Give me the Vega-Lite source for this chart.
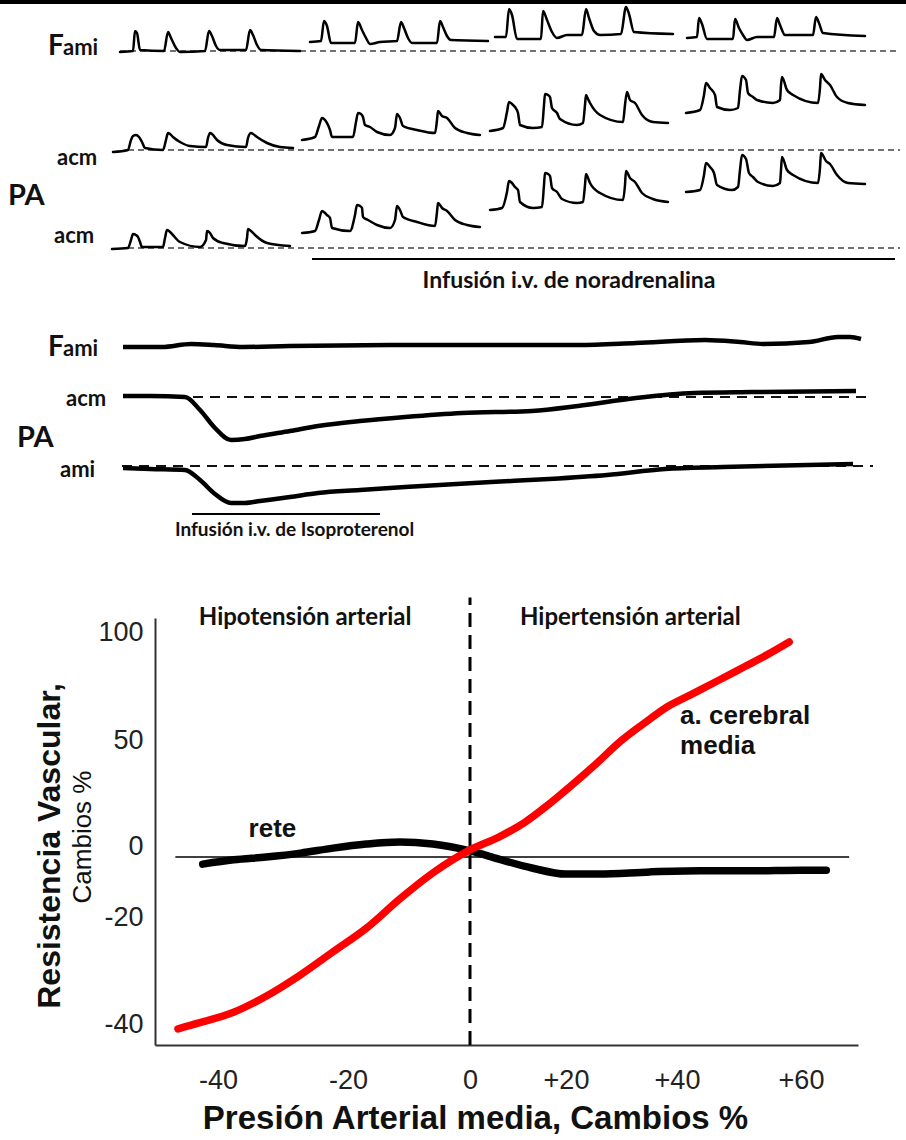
{
  "$schema": "https://vega.github.io/schema/vega-lite/v6.json",
  "width": 703,
  "height": 427,
  "autosize": "none",
  "padding": {"left": 155, "top": 618, "right": 48, "bottom": 95},
  "background": "white",
  "config": {
    "view": {"stroke": null},
    "axis": {"grid": false, "ticks": false, "labelFont": "Liberation Sans", "titleFont": "Liberation Sans"}
  },
  "datasets": {
    "curves": [
      {"series": "rete", "pam": -42.4, "rv": -5.1},
      {"series": "rete", "pam": -37.6, "rv": -3.9},
      {"series": "rete", "pam": -32.6, "rv": -3.1},
      {"series": "rete", "pam": -27.3, "rv": -2.0},
      {"series": "rete", "pam": -22.3, "rv": -0.6},
      {"series": "rete", "pam": -17.0, "rv": 0.9},
      {"series": "rete", "pam": -11.5, "rv": 1.9},
      {"series": "rete", "pam": -6.1, "rv": 0.9},
      {"series": "rete", "pam": 0, "rv": -1.4},
      {"series": "rete", "pam": 6.0, "rv": -3.7},
      {"series": "rete", "pam": 12.9, "rv": -6.2},
      {"series": "rete", "pam": 20, "rv": -7.9},
      {"series": "rete", "pam": 25.9, "rv": -7.9},
      {"series": "rete", "pam": 35.1, "rv": -7.3},
      {"series": "rete", "pam": 43.7, "rv": -7.0},
      {"series": "rete", "pam": 51.9, "rv": -7.0},
      {"series": "rete", "pam": 60, "rv": -6.8},
      {"series": "rete", "pam": 64, "rv": -6.8},
      {"series": "a. cerebral media", "pam": -46.3, "rv": -40.9},
      {"series": "a. cerebral media", "pam": -43.0, "rv": -39.8},
      {"series": "a. cerebral media", "pam": -37.6, "rv": -37.8},
      {"series": "a. cerebral media", "pam": -32.6, "rv": -34.8},
      {"series": "a. cerebral media", "pam": -27.3, "rv": -30.8},
      {"series": "a. cerebral media", "pam": -22.3, "rv": -26.5},
      {"series": "a. cerebral media", "pam": -17.0, "rv": -22.1},
      {"series": "a. cerebral media", "pam": -11.5, "rv": -14.9},
      {"series": "a. cerebral media", "pam": -6.1, "rv": -7.6},
      {"series": "a. cerebral media", "pam": 0, "rv": -1.1},
      {"series": "a. cerebral media", "pam": 6.0, "rv": 4.2},
      {"series": "a. cerebral media", "pam": 11.5, "rv": 11.3},
      {"series": "a. cerebral media", "pam": 16.5, "rv": 19.8},
      {"series": "a. cerebral media", "pam": 21.1, "rv": 28.8},
      {"series": "a. cerebral media", "pam": 25.4, "rv": 38.7},
      {"series": "a. cerebral media", "pam": 29.7, "rv": 49.1},
      {"series": "a. cerebral media", "pam": 33.9, "rv": 57.4},
      {"series": "a. cerebral media", "pam": 38.2, "rv": 65.3},
      {"series": "a. cerebral media", "pam": 42.1, "rv": 70.8},
      {"series": "a. cerebral media", "pam": 46.5, "rv": 77.3},
      {"series": "a. cerebral media", "pam": 50.8, "rv": 83.8},
      {"series": "a. cerebral media", "pam": 54.5, "rv": 89.4},
      {"series": "a. cerebral media", "pam": 58.1, "rv": 95.4}
    ],
    "zero_line": [{"pam": -46.7, "pam2": 67.6, "rv": -3.1}],
    "vline": [{"pam": 0, "rv": -43.9, "rv2": 116}],
    "region_labels": [
      {"label": "Hipotensión arterial", "pam": -26.6, "rv": 103.3},
      {"label": "Hipertensión arterial", "pam": 31.6, "rv": 103.3}
    ],
    "curve_labels": [
      {"label": "rete", "pam": -35.3, "rv": 4.2},
      {"label": "a. cerebral", "pam": 40.5, "rv": 57.6},
      {"label": "media", "pam": 40.5, "rv": 43.5}
    ],
    "frame_line": [{"t": 0, "t2": 906, "v": 558}],
    "top_baselines": [
      {"t": 120, "t2": 900, "v": 509},
      {"t": 128, "t2": 900, "v": 410},
      {"t": 128, "t2": 900, "v": 312}
    ],
    "mid_baselines": [
      {"t": 125, "t2": 873, "v": 163},
      {"t": 122, "t2": 873, "v": 94}
    ],
    "infusion_lines": [
      {"t": 312, "t2": 895, "v": 301},
      {"t": 192, "t2": 380, "v": 46}
    ],
    "top_traces": [
      {"trace": "F-1", "t": 120, "v": 508}, {"trace": "F-1", "t": 133, "v": 509}, {"trace": "F-1", "t": 135, "v": 529}, {"trace": "F-1", "t": 137, "v": 527}, {"trace": "F-1", "t": 140, "v": 510}, {"trace": "F-1", "t": 164, "v": 509}, {"trace": "F-1", "t": 168, "v": 528}, {"trace": "F-1", "t": 171, "v": 522}, {"trace": "F-1", "t": 176, "v": 512}, {"trace": "F-1", "t": 180, "v": 508}, {"trace": "F-1", "t": 205, "v": 509}, {"trace": "F-1", "t": 209, "v": 529}, {"trace": "F-1", "t": 212, "v": 524}, {"trace": "F-1", "t": 216, "v": 514}, {"trace": "F-1", "t": 220, "v": 510}, {"trace": "F-1", "t": 246, "v": 510}, {"trace": "F-1", "t": 250, "v": 530}, {"trace": "F-1", "t": 253, "v": 525}, {"trace": "F-1", "t": 257, "v": 515}, {"trace": "F-1", "t": 261, "v": 510}, {"trace": "F-1", "t": 300, "v": 509},
      {"trace": "F-2", "t": 310, "v": 518}, {"trace": "F-2", "t": 321, "v": 519}, {"trace": "F-2", "t": 324, "v": 539}, {"trace": "F-2", "t": 327, "v": 534}, {"trace": "F-2", "t": 331, "v": 517}, {"trace": "F-2", "t": 355, "v": 517}, {"trace": "F-2", "t": 358, "v": 538}, {"trace": "F-2", "t": 362, "v": 530}, {"trace": "F-2", "t": 366, "v": 522}, {"trace": "F-2", "t": 370, "v": 516}, {"trace": "F-2", "t": 380, "v": 518}, {"trace": "F-2", "t": 397, "v": 519}, {"trace": "F-2", "t": 401, "v": 538}, {"trace": "F-2", "t": 404, "v": 532}, {"trace": "F-2", "t": 408, "v": 522}, {"trace": "F-2", "t": 412, "v": 517}, {"trace": "F-2", "t": 437, "v": 517}, {"trace": "F-2", "t": 440, "v": 539}, {"trace": "F-2", "t": 443, "v": 533}, {"trace": "F-2", "t": 447, "v": 524}, {"trace": "F-2", "t": 451, "v": 520}, {"trace": "F-2", "t": 488, "v": 519},
      {"trace": "F-3", "t": 495, "v": 523}, {"trace": "F-3", "t": 506, "v": 523}, {"trace": "F-3", "t": 509, "v": 551}, {"trace": "F-3", "t": 512, "v": 545}, {"trace": "F-3", "t": 517, "v": 521}, {"trace": "F-3", "t": 541, "v": 521}, {"trace": "F-3", "t": 543, "v": 549}, {"trace": "F-3", "t": 547, "v": 540}, {"trace": "F-3", "t": 552, "v": 528}, {"trace": "F-3", "t": 557, "v": 522}, {"trace": "F-3", "t": 567, "v": 525}, {"trace": "F-3", "t": 582, "v": 525}, {"trace": "F-3", "t": 586, "v": 551}, {"trace": "F-3", "t": 589, "v": 542}, {"trace": "F-3", "t": 594, "v": 529}, {"trace": "F-3", "t": 600, "v": 525}, {"trace": "F-3", "t": 621, "v": 526}, {"trace": "F-3", "t": 626, "v": 553}, {"trace": "F-3", "t": 629, "v": 546}, {"trace": "F-3", "t": 634, "v": 528}, {"trace": "F-3", "t": 673, "v": 526},
      {"trace": "F-4", "t": 687, "v": 522}, {"trace": "F-4", "t": 697, "v": 523}, {"trace": "F-4", "t": 699, "v": 542}, {"trace": "F-4", "t": 702, "v": 536}, {"trace": "F-4", "t": 707, "v": 521}, {"trace": "F-4", "t": 733, "v": 521}, {"trace": "F-4", "t": 735, "v": 541}, {"trace": "F-4", "t": 739, "v": 532}, {"trace": "F-4", "t": 743, "v": 525}, {"trace": "F-4", "t": 747, "v": 520}, {"trace": "F-4", "t": 757, "v": 523}, {"trace": "F-4", "t": 774, "v": 523}, {"trace": "F-4", "t": 777, "v": 542}, {"trace": "F-4", "t": 780, "v": 535}, {"trace": "F-4", "t": 785, "v": 525}, {"trace": "F-4", "t": 813, "v": 525}, {"trace": "F-4", "t": 816, "v": 543}, {"trace": "F-4", "t": 819, "v": 537}, {"trace": "F-4", "t": 823, "v": 527}, {"trace": "F-4", "t": 865, "v": 524},
      {"trace": "A1-1", "t": 113, "v": 408}, {"trace": "A1-1", "t": 128, "v": 410}, {"trace": "A1-1", "t": 131, "v": 420}, {"trace": "A1-1", "t": 133, "v": 424}, {"trace": "A1-1", "t": 136, "v": 425}, {"trace": "A1-1", "t": 139, "v": 423}, {"trace": "A1-1", "t": 142, "v": 418}, {"trace": "A1-1", "t": 145, "v": 412}, {"trace": "A1-1", "t": 163, "v": 410}, {"trace": "A1-1", "t": 166, "v": 420}, {"trace": "A1-1", "t": 168, "v": 427}, {"trace": "A1-1", "t": 170, "v": 426}, {"trace": "A1-1", "t": 173, "v": 423}, {"trace": "A1-1", "t": 180, "v": 418}, {"trace": "A1-1", "t": 190, "v": 414}, {"trace": "A1-1", "t": 206, "v": 413}, {"trace": "A1-1", "t": 208, "v": 422}, {"trace": "A1-1", "t": 210, "v": 427}, {"trace": "A1-1", "t": 212, "v": 426}, {"trace": "A1-1", "t": 217, "v": 420}, {"trace": "A1-1", "t": 227, "v": 415}, {"trace": "A1-1", "t": 246, "v": 413}, {"trace": "A1-1", "t": 248, "v": 422}, {"trace": "A1-1", "t": 251, "v": 427}, {"trace": "A1-1", "t": 253, "v": 426}, {"trace": "A1-1", "t": 257, "v": 423}, {"trace": "A1-1", "t": 267, "v": 417}, {"trace": "A1-1", "t": 280, "v": 413}, {"trace": "A1-1", "t": 293, "v": 412},
      {"trace": "A1-2", "t": 302, "v": 420}, {"trace": "A1-2", "t": 315, "v": 423}, {"trace": "A1-2", "t": 319, "v": 434}, {"trace": "A1-2", "t": 322, "v": 442}, {"trace": "A1-2", "t": 325, "v": 440}, {"trace": "A1-2", "t": 328, "v": 435}, {"trace": "A1-2", "t": 330, "v": 430}, {"trace": "A1-2", "t": 332, "v": 423}, {"trace": "A1-2", "t": 353, "v": 423}, {"trace": "A1-2", "t": 356, "v": 438}, {"trace": "A1-2", "t": 358, "v": 447}, {"trace": "A1-2", "t": 361, "v": 446}, {"trace": "A1-2", "t": 363, "v": 443}, {"trace": "A1-2", "t": 365, "v": 435}, {"trace": "A1-2", "t": 370, "v": 433}, {"trace": "A1-2", "t": 377, "v": 428}, {"trace": "A1-2", "t": 390, "v": 425}, {"trace": "A1-2", "t": 395, "v": 432}, {"trace": "A1-2", "t": 397, "v": 446}, {"trace": "A1-2", "t": 400, "v": 442}, {"trace": "A1-2", "t": 403, "v": 434}, {"trace": "A1-2", "t": 417, "v": 430}, {"trace": "A1-2", "t": 435, "v": 427}, {"trace": "A1-2", "t": 437, "v": 440}, {"trace": "A1-2", "t": 438, "v": 449}, {"trace": "A1-2", "t": 442, "v": 444}, {"trace": "A1-2", "t": 447, "v": 442}, {"trace": "A1-2", "t": 455, "v": 432}, {"trace": "A1-2", "t": 467, "v": 427}, {"trace": "A1-2", "t": 480, "v": 425},
      {"trace": "A1-3", "t": 490, "v": 429}, {"trace": "A1-3", "t": 503, "v": 432}, {"trace": "A1-3", "t": 507, "v": 448}, {"trace": "A1-3", "t": 509, "v": 458}, {"trace": "A1-3", "t": 512, "v": 456}, {"trace": "A1-3", "t": 515, "v": 453}, {"trace": "A1-3", "t": 518, "v": 447}, {"trace": "A1-3", "t": 520, "v": 435}, {"trace": "A1-3", "t": 533, "v": 432}, {"trace": "A1-3", "t": 542, "v": 433}, {"trace": "A1-3", "t": 544, "v": 455}, {"trace": "A1-3", "t": 545, "v": 466}, {"trace": "A1-3", "t": 548, "v": 465}, {"trace": "A1-3", "t": 550, "v": 463}, {"trace": "A1-3", "t": 552, "v": 452}, {"trace": "A1-3", "t": 557, "v": 447}, {"trace": "A1-3", "t": 560, "v": 441}, {"trace": "A1-3", "t": 577, "v": 435}, {"trace": "A1-3", "t": 583, "v": 437}, {"trace": "A1-3", "t": 585, "v": 455}, {"trace": "A1-3", "t": 586, "v": 465}, {"trace": "A1-3", "t": 588, "v": 461}, {"trace": "A1-3", "t": 590, "v": 457}, {"trace": "A1-3", "t": 600, "v": 445}, {"trace": "A1-3", "t": 623, "v": 438}, {"trace": "A1-3", "t": 625, "v": 455}, {"trace": "A1-3", "t": 627, "v": 468}, {"trace": "A1-3", "t": 630, "v": 460}, {"trace": "A1-3", "t": 635, "v": 457}, {"trace": "A1-3", "t": 642, "v": 445}, {"trace": "A1-3", "t": 653, "v": 438}, {"trace": "A1-3", "t": 668, "v": 437},
      {"trace": "A1-4", "t": 686, "v": 447}, {"trace": "A1-4", "t": 700, "v": 450}, {"trace": "A1-4", "t": 704, "v": 465}, {"trace": "A1-4", "t": 706, "v": 477}, {"trace": "A1-4", "t": 710, "v": 472}, {"trace": "A1-4", "t": 715, "v": 465}, {"trace": "A1-4", "t": 717, "v": 453}, {"trace": "A1-4", "t": 730, "v": 450}, {"trace": "A1-4", "t": 738, "v": 452}, {"trace": "A1-4", "t": 740, "v": 470}, {"trace": "A1-4", "t": 742, "v": 484}, {"trace": "A1-4", "t": 746, "v": 480}, {"trace": "A1-4", "t": 748, "v": 467}, {"trace": "A1-4", "t": 753, "v": 463}, {"trace": "A1-4", "t": 757, "v": 460}, {"trace": "A1-4", "t": 773, "v": 457}, {"trace": "A1-4", "t": 780, "v": 460}, {"trace": "A1-4", "t": 781, "v": 475}, {"trace": "A1-4", "t": 782, "v": 483}, {"trace": "A1-4", "t": 787, "v": 470}, {"trace": "A1-4", "t": 793, "v": 465}, {"trace": "A1-4", "t": 818, "v": 457}, {"trace": "A1-4", "t": 820, "v": 472}, {"trace": "A1-4", "t": 821, "v": 486}, {"trace": "A1-4", "t": 825, "v": 480}, {"trace": "A1-4", "t": 830, "v": 475}, {"trace": "A1-4", "t": 837, "v": 463}, {"trace": "A1-4", "t": 848, "v": 457}, {"trace": "A1-4", "t": 865, "v": 455},
      {"trace": "A2-1", "t": 112, "v": 311}, {"trace": "A2-1", "t": 128, "v": 312}, {"trace": "A2-1", "t": 131, "v": 320}, {"trace": "A2-1", "t": 133, "v": 326}, {"trace": "A2-1", "t": 136, "v": 325}, {"trace": "A2-1", "t": 138, "v": 323}, {"trace": "A2-1", "t": 140, "v": 318}, {"trace": "A2-1", "t": 142, "v": 313}, {"trace": "A2-1", "t": 163, "v": 313}, {"trace": "A2-1", "t": 165, "v": 322}, {"trace": "A2-1", "t": 167, "v": 330}, {"trace": "A2-1", "t": 169, "v": 329}, {"trace": "A2-1", "t": 172, "v": 326}, {"trace": "A2-1", "t": 180, "v": 318}, {"trace": "A2-1", "t": 200, "v": 313}, {"trace": "A2-1", "t": 206, "v": 320}, {"trace": "A2-1", "t": 207, "v": 329}, {"trace": "A2-1", "t": 210, "v": 327}, {"trace": "A2-1", "t": 213, "v": 322}, {"trace": "A2-1", "t": 223, "v": 317}, {"trace": "A2-1", "t": 245, "v": 314}, {"trace": "A2-1", "t": 247, "v": 322}, {"trace": "A2-1", "t": 248, "v": 331}, {"trace": "A2-1", "t": 251, "v": 329}, {"trace": "A2-1", "t": 255, "v": 325}, {"trace": "A2-1", "t": 267, "v": 317}, {"trace": "A2-1", "t": 290, "v": 314},
      {"trace": "A2-2", "t": 302, "v": 327}, {"trace": "A2-2", "t": 315, "v": 329}, {"trace": "A2-2", "t": 319, "v": 340}, {"trace": "A2-2", "t": 322, "v": 349}, {"trace": "A2-2", "t": 325, "v": 347}, {"trace": "A2-2", "t": 327, "v": 345}, {"trace": "A2-2", "t": 330, "v": 342}, {"trace": "A2-2", "t": 332, "v": 332}, {"trace": "A2-2", "t": 350, "v": 329}, {"trace": "A2-2", "t": 355, "v": 345}, {"trace": "A2-2", "t": 357, "v": 355}, {"trace": "A2-2", "t": 360, "v": 354}, {"trace": "A2-2", "t": 362, "v": 352}, {"trace": "A2-2", "t": 363, "v": 343}, {"trace": "A2-2", "t": 368, "v": 340}, {"trace": "A2-2", "t": 377, "v": 335}, {"trace": "A2-2", "t": 390, "v": 332}, {"trace": "A2-2", "t": 395, "v": 340}, {"trace": "A2-2", "t": 397, "v": 354}, {"trace": "A2-2", "t": 400, "v": 350}, {"trace": "A2-2", "t": 403, "v": 343}, {"trace": "A2-2", "t": 417, "v": 338}, {"trace": "A2-2", "t": 435, "v": 334}, {"trace": "A2-2", "t": 437, "v": 348}, {"trace": "A2-2", "t": 438, "v": 357}, {"trace": "A2-2", "t": 442, "v": 352}, {"trace": "A2-2", "t": 447, "v": 349}, {"trace": "A2-2", "t": 455, "v": 340}, {"trace": "A2-2", "t": 467, "v": 335}, {"trace": "A2-2", "t": 480, "v": 333},
      {"trace": "A2-3", "t": 490, "v": 350}, {"trace": "A2-3", "t": 502, "v": 352}, {"trace": "A2-3", "t": 507, "v": 368}, {"trace": "A2-3", "t": 509, "v": 379}, {"trace": "A2-3", "t": 512, "v": 377}, {"trace": "A2-3", "t": 515, "v": 373}, {"trace": "A2-3", "t": 518, "v": 370}, {"trace": "A2-3", "t": 520, "v": 358}, {"trace": "A2-3", "t": 533, "v": 352}, {"trace": "A2-3", "t": 542, "v": 353}, {"trace": "A2-3", "t": 544, "v": 375}, {"trace": "A2-3", "t": 545, "v": 387}, {"trace": "A2-3", "t": 548, "v": 386}, {"trace": "A2-3", "t": 550, "v": 384}, {"trace": "A2-3", "t": 552, "v": 372}, {"trace": "A2-3", "t": 557, "v": 368}, {"trace": "A2-3", "t": 562, "v": 361}, {"trace": "A2-3", "t": 577, "v": 357}, {"trace": "A2-3", "t": 583, "v": 358}, {"trace": "A2-3", "t": 585, "v": 375}, {"trace": "A2-3", "t": 586, "v": 386}, {"trace": "A2-3", "t": 588, "v": 382}, {"trace": "A2-3", "t": 590, "v": 377}, {"trace": "A2-3", "t": 600, "v": 367}, {"trace": "A2-3", "t": 623, "v": 360}, {"trace": "A2-3", "t": 625, "v": 375}, {"trace": "A2-3", "t": 626, "v": 389}, {"trace": "A2-3", "t": 630, "v": 382}, {"trace": "A2-3", "t": 635, "v": 378}, {"trace": "A2-3", "t": 642, "v": 367}, {"trace": "A2-3", "t": 653, "v": 361}, {"trace": "A2-3", "t": 668, "v": 358},
      {"trace": "A2-4", "t": 686, "v": 368}, {"trace": "A2-4", "t": 700, "v": 370}, {"trace": "A2-4", "t": 704, "v": 385}, {"trace": "A2-4", "t": 706, "v": 397}, {"trace": "A2-4", "t": 710, "v": 393}, {"trace": "A2-4", "t": 714, "v": 387}, {"trace": "A2-4", "t": 717, "v": 375}, {"trace": "A2-4", "t": 732, "v": 370}, {"trace": "A2-4", "t": 738, "v": 373}, {"trace": "A2-4", "t": 740, "v": 390}, {"trace": "A2-4", "t": 742, "v": 405}, {"trace": "A2-4", "t": 746, "v": 401}, {"trace": "A2-4", "t": 749, "v": 387}, {"trace": "A2-4", "t": 753, "v": 383}, {"trace": "A2-4", "t": 758, "v": 378}, {"trace": "A2-4", "t": 773, "v": 374}, {"trace": "A2-4", "t": 780, "v": 377}, {"trace": "A2-4", "t": 781, "v": 390}, {"trace": "A2-4", "t": 782, "v": 403}, {"trace": "A2-4", "t": 787, "v": 390}, {"trace": "A2-4", "t": 793, "v": 385}, {"trace": "A2-4", "t": 818, "v": 377}, {"trace": "A2-4", "t": 820, "v": 392}, {"trace": "A2-4", "t": 821, "v": 407}, {"trace": "A2-4", "t": 826, "v": 399}, {"trace": "A2-4", "t": 830, "v": 396}, {"trace": "A2-4", "t": 837, "v": 385}, {"trace": "A2-4", "t": 848, "v": 377}, {"trace": "A2-4", "t": 865, "v": 376}
    ],
    "mid_traces": [
      {"trace": "Fami", "t": 123, "v": 213}, {"trace": "Fami", "t": 162, "v": 213}, {"trace": "Fami", "t": 191, "v": 216}, {"trace": "Fami", "t": 214, "v": 215}, {"trace": "Fami", "t": 243, "v": 213}, {"trace": "Fami", "t": 289, "v": 214}, {"trace": "Fami", "t": 405, "v": 215}, {"trace": "Fami", "t": 520, "v": 215}, {"trace": "Fami", "t": 578, "v": 215}, {"trace": "Fami", "t": 636, "v": 217}, {"trace": "Fami", "t": 705, "v": 220}, {"trace": "Fami", "t": 740, "v": 218}, {"trace": "Fami", "t": 763, "v": 216}, {"trace": "Fami", "t": 809, "v": 218}, {"trace": "Fami", "t": 838, "v": 223}, {"trace": "Fami", "t": 850, "v": 223}, {"trace": "Fami", "t": 861, "v": 221},
      {"trace": "acm", "t": 123, "v": 164}, {"trace": "acm", "t": 150, "v": 164}, {"trace": "acm", "t": 185, "v": 163}, {"trace": "acm", "t": 200, "v": 150}, {"trace": "acm", "t": 215, "v": 132}, {"trace": "acm", "t": 231, "v": 120}, {"trace": "acm", "t": 245, "v": 121}, {"trace": "acm", "t": 260, "v": 124}, {"trace": "acm", "t": 290, "v": 129}, {"trace": "acm", "t": 318, "v": 134}, {"trace": "acm", "t": 360, "v": 139}, {"trace": "acm", "t": 405, "v": 143}, {"trace": "acm", "t": 462, "v": 147}, {"trace": "acm", "t": 532, "v": 149}, {"trace": "acm", "t": 578, "v": 154}, {"trace": "acm", "t": 636, "v": 162}, {"trace": "acm", "t": 694, "v": 167}, {"trace": "acm", "t": 751, "v": 168}, {"trace": "acm", "t": 856, "v": 169},
      {"trace": "ami", "t": 123, "v": 92}, {"trace": "ami", "t": 150, "v": 91}, {"trace": "ami", "t": 185, "v": 90}, {"trace": "ami", "t": 200, "v": 80}, {"trace": "ami", "t": 215, "v": 66}, {"trace": "ami", "t": 231, "v": 57}, {"trace": "ami", "t": 245, "v": 57}, {"trace": "ami", "t": 260, "v": 59}, {"trace": "ami", "t": 290, "v": 63}, {"trace": "ami", "t": 318, "v": 67}, {"trace": "ami", "t": 360, "v": 70}, {"trace": "ami", "t": 405, "v": 73}, {"trace": "ami", "t": 491, "v": 78}, {"trace": "ami", "t": 549, "v": 81}, {"trace": "ami", "t": 607, "v": 85}, {"trace": "ami", "t": 665, "v": 91}, {"trace": "ami", "t": 723, "v": 93}, {"trace": "ami", "t": 853, "v": 96}
    ],
    "big_f": [
      {"label": "F", "t": 48, "v": 505},
      {"label": "F", "t": 48, "v": 204}
    ],
    "small_labels": [
      {"label": "ami", "t": 63, "v": 505},
      {"label": "acm", "t": 57, "v": 395},
      {"label": "acm", "t": 54, "v": 317},
      {"label": "ami", "t": 63, "v": 204},
      {"label": "acm", "t": 66, "v": 154},
      {"label": "ami", "t": 60, "v": 83}
    ],
    "pa_labels": [
      {"label": "PA", "t": 8, "v": 355},
      {"label": "PA", "t": 17, "v": 113}
    ],
    "nor_label": [{"label": "Infusión i.v. de noradrenalina", "t": 569, "v": 272}],
    "iso_label": [{"label": "Infusión i.v. de Isoproterenol", "t": 175, "v": 24}]
  },
  "layer": [
    {
      "encoding": {
        "x": {"field": "pam", "type": "quantitative",
              "scale": {"domain": [-49.9, -40, -20, 0, 20, 40, 60, 69], "range": [0, 63, 193, 315, 411, 522, 646, 703], "nice": false, "zero": false},
              "axis": {"orient": "bottom", "values": [-40, -20, 0, 20, 40, 60], "labelExpr": "datum.value > 0 ? '+' + datum.value : '' + datum.value",
                       "labelFont": "Liberation Sans", "labelFontSize": 27, "labelColor": "#222222", "labelPadding": 22, "labelFlush": false, "labelOverlap": false,
                       "ticks": false, "domain": true, "domainColor": "#333333", "domainWidth": 2,
                       "title": "Presión Arterial media, Cambios %", "titleFont": "Liberation Sans", "titleFontSize": 33, "titleFontWeight": "bold",
                       "titleColor": "#111111", "titlePadding": 9, "titleX": 320}},
        "y": {"field": "rv", "type": "quantitative", "axis": null,
              "scale": {"domain": [-43.9, -40, -20, 0, 50, 100, 106.5], "range": [427, 406, 299, 228, 122, 14, 0], "nice": false, "zero": false}}
      },
      "layer": [
        {
          "data": {"name": "zero_line"},
          "mark": {"type": "rule", "color": "#000000", "strokeWidth": 1.5},
          "encoding": {
            "x2": {"field": "pam2"},
            "y": {"field": "rv", "type": "quantitative",
                  "scale": {"domain": [-43.9, -40, -20, 0, 50, 100, 106.5], "range": [427, 406, 299, 228, 122, 14, 0], "nice": false, "zero": false},
                  "axis": {"orient": "left", "title": "Resistencia Vascular,", "labels": false, "ticks": false, "domain": false, "grid": false,
                           "minExtent": 0, "titleFont": "Liberation Sans", "titleFontSize": 32, "titleFontWeight": "bold", "titleColor": "#111111",
                           "titlePadding": 89, "titleY": 227.5}}
          }
        },
        {
          "data": {"name": "vline"},
          "mark": {"type": "rule", "color": "#000000", "strokeWidth": 3, "strokeDash": [14, 8]},
          "encoding": {"y2": {"field": "rv2"}}
        },
        {
          "data": {"name": "curves"},
          "mark": {"type": "line", "strokeWidth": 7.5, "strokeCap": "round", "strokeJoin": "round", "interpolate": "monotone"},
          "encoding": {
            "y": {"field": "rv", "type": "quantitative",
                  "scale": {"domain": [-43.9, -40, -20, 0, 50, 100, 106.5], "range": [427, 406, 299, 228, 122, 14, 0], "nice": false, "zero": false},
                  "axis": {"orient": "left", "values": [-40, -20, 0, 50, 100], "labelExpr": "'' + datum.value",
                           "labelFont": "Liberation Sans", "labelFontSize": 27, "labelColor": "#222222", "labelPadding": 12, "labelFlush": false, "labelOverlap": false,
                           "ticks": false, "domainColor": "#333333", "domainWidth": 2,
                           "title": "Cambios %", "titleFont": "Liberation Sans", "titleFontSize": 26, "titleFontWeight": "normal",
                           "titleColor": "#111111", "titlePadding": 2, "titleY": 218.5}},
            "color": {"field": "series", "type": "nominal", "legend": null,
                      "scale": {"domain": ["rete", "a. cerebral media"], "range": ["#000000", "#ff0000"]}}
          }
        },
        {
          "data": {"name": "region_labels"},
          "mark": {"type": "text", "font": "Lato", "fontWeight": "bold", "fontSize": 24, "align": "center", "baseline": "alphabetic", "color": "#111111"},
          "encoding": {"text": {"field": "label"}}
        },
        {
          "data": {"name": "curve_labels"},
          "mark": {"type": "text", "font": "Liberation Sans", "fontWeight": "bold", "fontSize": 26, "align": "left", "baseline": "alphabetic", "color": "#111111"},
          "encoding": {"text": {"field": "label"}}
        }
      ],
      "resolve": {"axis": {"y": "independent"}}
    },
    {
      "encoding": {
        "x": {"field": "t", "type": "quantitative", "axis": null,
              "scale": {"domain": [0, 906], "range": [-155, 751], "nice": false, "zero": false}},
        "y": {"field": "v", "type": "quantitative", "axis": null,
              "scale": {"domain": [0, 560], "range": [-58, -618], "nice": false, "zero": false}}
      },
      "layer": [
        {
          "data": {"name": "frame_line"},
          "mark": {"type": "rule", "color": "#000000", "strokeWidth": 4},
          "encoding": {"x2": {"field": "t2"}}
        },
        {
          "data": {"name": "top_baselines"},
          "mark": {"type": "rule", "color": "#444444", "strokeWidth": 1.5, "strokeDash": [6, 4]},
          "encoding": {"x2": {"field": "t2"}}
        },
        {
          "data": {"name": "mid_baselines"},
          "mark": {"type": "rule", "color": "#111111", "strokeWidth": 2, "strokeDash": [10, 7]},
          "encoding": {"x2": {"field": "t2"}}
        },
        {
          "data": {"name": "infusion_lines"},
          "mark": {"type": "rule", "color": "#000000", "strokeWidth": 2},
          "encoding": {"x2": {"field": "t2"}}
        },
        {
          "data": {"name": "top_traces"},
          "mark": {"type": "line", "color": "#000000", "strokeWidth": 2.5, "strokeJoin": "round", "strokeCap": "round", "interpolate": "monotone"},
          "encoding": {"detail": {"field": "trace", "type": "nominal"}}
        },
        {
          "data": {"name": "mid_traces"},
          "mark": {"type": "line", "color": "#000000", "strokeWidth": 4.5, "strokeJoin": "round", "interpolate": "monotone"},
          "encoding": {"detail": {"field": "trace", "type": "nominal"}}
        },
        {
          "data": {"name": "big_f"},
          "mark": {"type": "text", "font": "Lato", "fontWeight": "bold", "fontSize": 28, "align": "left", "baseline": "alphabetic", "color": "#111111"},
          "encoding": {"text": {"field": "label"}}
        },
        {
          "data": {"name": "small_labels"},
          "mark": {"type": "text", "font": "Lato", "fontWeight": "bold", "fontSize": 22, "align": "left", "baseline": "alphabetic", "color": "#111111"},
          "encoding": {"text": {"field": "label"}}
        },
        {
          "data": {"name": "pa_labels"},
          "mark": {"type": "text", "font": "Lato", "fontWeight": "bold", "fontSize": 29, "align": "left", "baseline": "alphabetic", "color": "#111111"},
          "encoding": {"text": {"field": "label"}}
        },
        {
          "data": {"name": "nor_label"},
          "mark": {"type": "text", "font": "Lato", "fontWeight": "bold", "fontSize": 23, "align": "center", "baseline": "alphabetic", "color": "#111111"},
          "encoding": {"text": {"field": "label"}}
        },
        {
          "data": {"name": "iso_label"},
          "mark": {"type": "text", "font": "Lato", "fontWeight": "bold", "fontSize": 19, "align": "left", "baseline": "alphabetic", "color": "#111111"},
          "encoding": {"text": {"field": "label"}}
        }
      ]
    }
  ],
  "resolve": {"scale": {"x": "independent", "y": "independent"}}
}
